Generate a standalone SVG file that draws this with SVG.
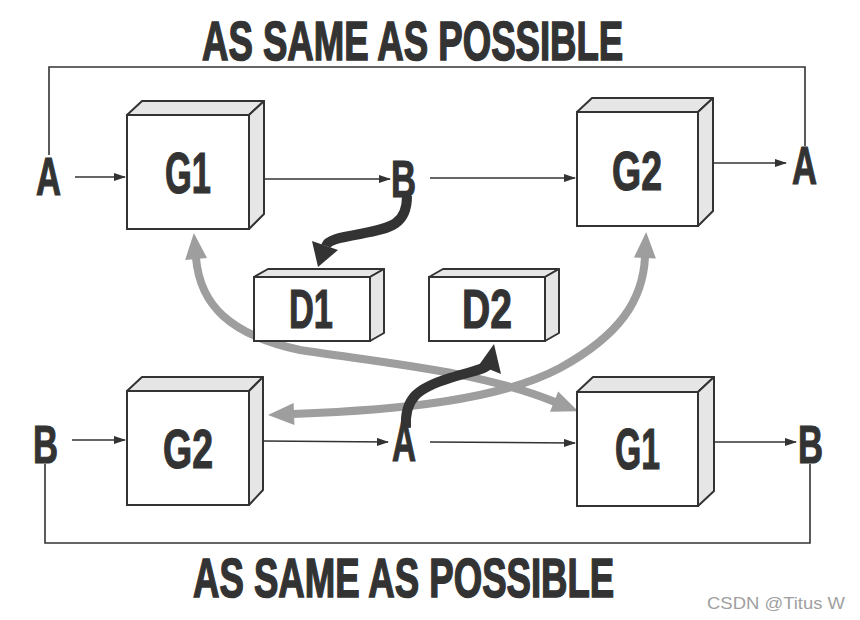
<svg xmlns="http://www.w3.org/2000/svg" width="860" height="620" viewBox="0 0 860 620">
<style>
.t{font-family:"Liberation Sans",Arial,sans-serif;font-weight:bold;fill:#333;stroke:#333;stroke-width:1.2;}
.title{font-family:"Liberation Sans",Arial,sans-serif;font-weight:bold;font-size:56px;fill:#333;stroke:#333;stroke-width:1.6;}
.front{fill:#fff;stroke:#333;stroke-width:2;}
.side{fill:#e6e6e6;stroke:#333;stroke-width:2;stroke-linejoin:round;}
.thin{fill:none;stroke:#333;stroke-width:1.6;}
.arr{marker-end:url(#ah);}
.gray{fill:none;stroke:#9e9e9e;stroke-width:8;marker-start:url(#gh);marker-end:url(#gh);}
.dark{fill:none;stroke:#333;stroke-width:10;}
.wm{font-family:"Liberation Sans",Arial,sans-serif;font-size:17px;fill:#a0a0a0;}
</style>
<defs>
<marker id="ah" markerUnits="userSpaceOnUse" markerWidth="12" markerHeight="8" refX="11" refY="4" orient="auto">
<path d="M0,0 L12,4 L0,8 z" fill="#333"/>
</marker>
<marker id="gh" markerUnits="userSpaceOnUse" markerWidth="26" markerHeight="22" refX="1" refY="11" orient="auto-start-reverse" overflow="visible">
<path d="M0,0 L26,11 L0,22 z" fill="#9e9e9e"/>
</marker>
</defs>

<text class="title" transform="matrix(0.651,0,0,1,202,60)" x="0" y="0" textLength="647" lengthAdjust="spacingAndGlyphs">AS SAME AS POSSIBLE</text>
<text class="title" transform="matrix(0.651,0,0,1,193,597)" x="0" y="0" textLength="647" lengthAdjust="spacingAndGlyphs">AS SAME AS POSSIBLE</text>

<g id="connectors">
<path class="thin" d="M49 155 L49 67 L805 67 L805 146"/>
<path class="thin" d="M45 464 L45 543 L810 543 L810 464"/>
<line class="thin arr" x1="75" y1="177" x2="125" y2="177"/>
<line class="thin arr" x1="265" y1="179" x2="390" y2="179"/>
<line class="thin arr" x1="430" y1="178" x2="575" y2="178"/>
<line class="thin arr" x1="714" y1="163" x2="786" y2="163"/>
<line class="thin arr" x1="72" y1="440" x2="125" y2="440"/>
<line class="thin arr" x1="264" y1="441" x2="388" y2="442"/>
<line class="thin arr" x1="430" y1="442" x2="575" y2="443"/>
<line class="thin arr" x1="714" y1="442" x2="796" y2="442"/>
<path class="gray" d="M196 258 C200 305, 230 335, 300 350 C400 365, 480 372, 555 402"/>
<path class="gray" d="M293 414 C400 410, 500 400, 560 368 C620 335, 643 300, 645 257"/>
<path class="dark" d="M407 196 C407 224, 392 228, 360 234 C338 238, 328 240, 326 246"/>
<polygon points="312,241 338,250 318,267" fill="#333"/>
<path class="dark" d="M406 428 C404 398, 418 388, 450 378 C472 371, 484 370, 489 364"/>
<polygon points="479,365 501,374 494,344" fill="#333"/>
</g>

<g id="node-A-top-left"><text class="t" x="36" y="195" font-size="54" textLength="25" lengthAdjust="spacingAndGlyphs">A</text></g>
<g id="node-B-top"><text class="t" x="391" y="197" font-size="52" textLength="25" lengthAdjust="spacingAndGlyphs">B</text></g>
<g id="node-A-top-right"><text class="t" x="792" y="184" font-size="54" textLength="25" lengthAdjust="spacingAndGlyphs">A</text></g>
<g id="node-B-bottom-left"><text class="t" x="33" y="463" font-size="53" textLength="25" lengthAdjust="spacingAndGlyphs">B</text></g>
<g id="node-A-bottom"><text class="t" x="392" y="461" font-size="56" textLength="24" lengthAdjust="spacingAndGlyphs">A</text></g>
<g id="node-B-bottom-right"><text class="t" x="798" y="463" font-size="53" textLength="25" lengthAdjust="spacingAndGlyphs">B</text></g>

<g id="node-G1-top">
<polygon class="side" points="127,115 142,101 264,101 249,115"/>
<polygon class="side" points="249,115 264,101 264,214 249,229"/>
<rect class="front" x="127" y="115" width="122" height="114"/>
<text class="t" x="165" y="193" font-size="57" textLength="46" lengthAdjust="spacingAndGlyphs">G1</text>
</g>
<g id="node-G2-top">
<polygon class="side" points="577,112 592,98 713,98 698,112"/>
<polygon class="side" points="698,112 713,98 713,211 698,226"/>
<rect class="front" x="577" y="112" width="121" height="114"/>
<text class="t" x="612" y="190" font-size="56" textLength="50" lengthAdjust="spacingAndGlyphs">G2</text>
</g>
<g id="node-D1">
<polygon class="side" points="254,277 268,269 384,269 370,277"/>
<polygon class="side" points="370,277 384,269 384,333 370,341"/>
<rect class="front" x="254" y="277" width="116" height="64"/>
<text class="t" x="289" y="328" font-size="56" textLength="44" lengthAdjust="spacingAndGlyphs">D1</text>
</g>
<g id="node-D2">
<polygon class="side" points="429,277 443,269 559,269 545,277"/>
<polygon class="side" points="545,277 559,269 559,333 545,341"/>
<rect class="front" x="429" y="277" width="116" height="64"/>
<text class="t" x="462" y="328" font-size="56" textLength="50" lengthAdjust="spacingAndGlyphs">D2</text>
</g>
<g id="node-G2-bottom">
<polygon class="side" points="127,391 142,377 263,377 249,391"/>
<polygon class="side" points="249,391 263,377 263,490 249,505"/>
<rect class="front" x="127" y="391" width="122" height="114"/>
<text class="t" x="163" y="468" font-size="56" textLength="50" lengthAdjust="spacingAndGlyphs">G2</text>
</g>
<g id="node-G1-bottom">
<polygon class="side" points="577,392 593,377 714,377 698,392"/>
<polygon class="side" points="698,392 714,377 714,491 698,506"/>
<rect class="front" x="577" y="392" width="121" height="114"/>
<text class="t" x="615" y="469" font-size="58" textLength="45" lengthAdjust="spacingAndGlyphs">G1</text>
</g>

<text class="wm" x="707" y="609" textLength="138" lengthAdjust="spacingAndGlyphs">CSDN @Titus W</text>
</svg>
